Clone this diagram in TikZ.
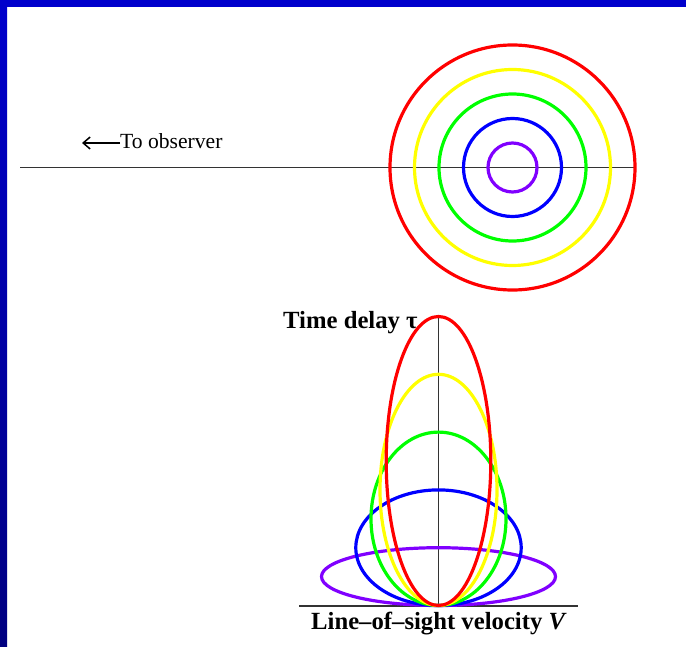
\documentclass[tikz,border=0pt]{standalone}
\usepackage{fontspec}
\setmainfont{Liberation Serif}
\usetikzlibrary{arrows.meta}
\definecolor{bordtop}{RGB}{0,0,204}
\definecolor{bordbot}{RGB}{0,0,128}
\definecolor{cred}{RGB}{255,0,0}
\definecolor{cyellow}{RGB}{255,255,0}
\definecolor{cgreen}{RGB}{0,255,0}
\definecolor{cblue}{RGB}{0,0,255}
\definecolor{cpurple}{RGB}{128,0,255}
\tikzset{
  ring/.style={line width=3.2pt},
  axisline/.style={line width=1.8pt, draw=black!80},
  label/.style={inner sep=0pt, anchor=base west, font=\bfseries\fontsize{24.7}{28}\selectfont},
}
\begin{document}
\begin{tikzpicture}[x=1pt,y=-1pt]
\useasboundingbox (0,0) rectangle (686,647);
\fill[white] (0,0) rectangle (686,647);
% border
\fill[bordtop] (0,0) rectangle (686,7);
\shade[top color=bordtop, bottom color=bordbot] (0,0) rectangle (7,647);
% top: line of sight and rings
\draw[axisline] (20,167.5) -- (636,167.5);
\coordinate (cc) at (512.5,167.5);
\draw[ring, cpurple] (cc) circle [radius=24.5];
\draw[ring, cblue] (cc) circle [radius=49];
\draw[ring, cgreen] (cc) circle [radius=73.5];
\draw[ring, cyellow] (cc) circle [radius=98];
\draw[ring, cred] (cc) circle [radius=122.5];
% observer label
\node[inner sep=0pt, anchor=base west, font=\fontsize{21.6}{24}\selectfont] (obs) at (120,149) {To observer};
\coordinate (arrowtip) at (82,143);
\draw[line width=1.5pt, -{Straight Barb[length=7pt,width=12pt]}] (obs.west |- arrowtip) -- (arrowtip);
% bottom: velocity-delay diagram
\draw[axisline] (299,606) -- (578,606);
\draw[axisline] (438.5,315) -- (438.5,606);
\draw[ring, cpurple] (438.5,605.5-28.9) ellipse [x radius=117, y radius=28.9];
\draw[ring, cblue] (438.5,605.5-57.8) ellipse [x radius=82.7, y radius=57.8];
\draw[ring, cgreen] (438.5,605.5-86.7) ellipse [x radius=67.5, y radius=86.7];
\draw[ring, cyellow] (438.5,605.5-115.6) ellipse [x radius=58.5, y radius=115.6];
\draw[ring, cred] (438.5,605.5-144.5) ellipse [x radius=52.3, y radius=144.5];
% axis labels
\node[label] (tau) at (283,328) {Time delay τ};
\node[label] (vel) at (311,629) {Line–of–sight velocity \textit{V}};
\end{tikzpicture}
\end{document}
